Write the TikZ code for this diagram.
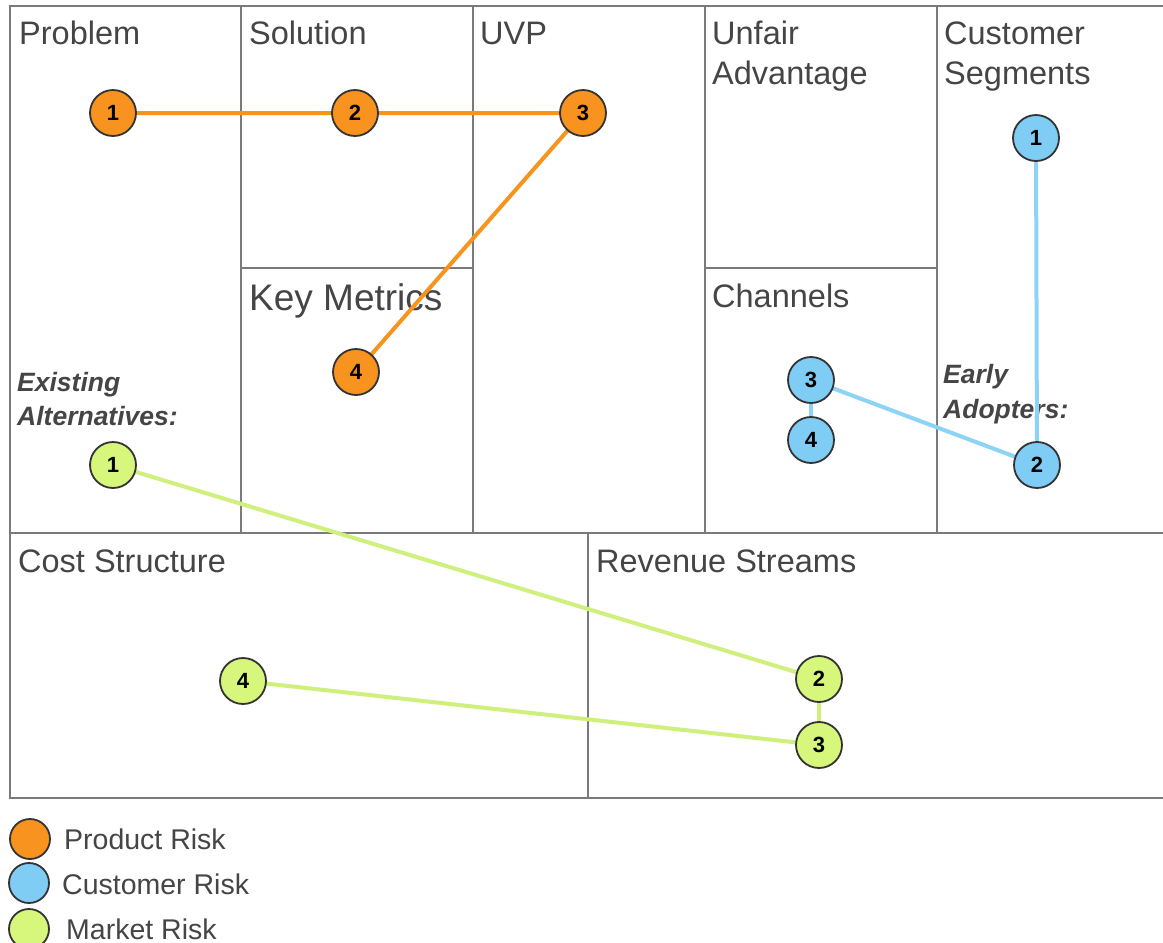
\documentclass[tikz,border=0pt]{standalone}
\usepackage{fontspec}
\setmainfont{Liberation Sans}
\definecolor{gridc}{HTML}{7A7A7A}
\definecolor{txt}{HTML}{454545}
\definecolor{porange}{HTML}{F7931E}
\definecolor{cblue}{HTML}{7FCDF5}
\definecolor{mgreen}{HTML}{D6F67C}
\definecolor{lorange}{HTML}{F7941D}
\definecolor{lblue}{HTML}{8CD3F6}
\definecolor{lgreen}{HTML}{CFF07C}
\tikzset{
  grid/.style={draw=gridc, line width=2pt},
  lbl/.style={anchor=base west, inner sep=0pt, text=txt, font=\fontsize{32.5}{36}\selectfont},
  bigl/.style={anchor=base west, inner sep=0pt, text=txt, font=\fontsize{37}{40}\selectfont},
  ital/.style={anchor=base west, inner sep=0pt, text=txt, font=\fontsize{26.5}{30}\selectfont\bfseries\itshape},
  legt/.style={anchor=base west, inner sep=0pt, text=txt, font=\fontsize{28.5}{32}\selectfont},
  risk/.style={circle, draw=black!80, line width=1.8pt, minimum size=46pt, inner sep=0pt, font=\fontsize{22}{24}\selectfont\bfseries},
  pr/.style={risk, fill=porange},
  cr/.style={risk, fill=cblue},
  mr/.style={risk, fill=mgreen},
  plink/.style={draw=lorange, line width=4pt},
  clink/.style={draw=lblue, line width=4pt},
  mlink/.style={draw=lgreen, line width=4pt},
}
\begin{document}
\begin{tikzpicture}[x=1pt,y=-1pt]
\useasboundingbox (0,0) rectangle (1163,943);
\fill[white] (0,0) rectangle (1163,943);
\begin{scope}
\clip (0,0) rectangle (1163,943);
\draw[grid] (10,6) rectangle (1180,798);
\draw[grid] (10,533) -- (1180,533);
\draw[grid] (241,6) -- (241,533);
\draw[grid] (473,6) -- (473,533);
\draw[grid] (705,6) -- (705,533);
\draw[grid] (937,6) -- (937,533);
\draw[grid] (241,268) -- (473,268);
\draw[grid] (705,268) -- (937,268);
\draw[grid] (588,533) -- (588,798);
\end{scope}
% labels
\node[lbl] (tprob) at (19,44) {Problem};
\node[lbl] (tsol) at (249,44) {Solution};
\node[lbl] (tuvp) at (480,44) {UVP};
\node[lbl] (tunf1) at (712,44) {Unfair};
\node[lbl] (tunf2) at (712,84) {Advantage};
\node[lbl] (tcs1) at (944,44) {Customer};
\node[lbl] (tcs2) at (944,84) {Segments};
\node[bigl] (tkm) at (249,310) {Key Metrics};
\node[lbl] (tch) at (712,307) {Channels};
\node[lbl] (tcost) at (18,572) {Cost Structure};
\node[lbl] (trev) at (596,572) {Revenue Streams};
\node[ital] (tex1) at (17,391) {Existing};
\node[ital] (tex2) at (17,425) {Alternatives:};
\node[ital] (tea1) at (943,383) {Early};
\node[ital] (tea2) at (943,418) {Adopters:};
% links first (behind circles)
\coordinate (cP1) at (113,113);
\coordinate (cP2) at (355,113);
\coordinate (cP3) at (583,113);
\coordinate (cP4) at (356,372);
\coordinate (cC1) at (1036,138);
\coordinate (cC2) at (1037,465);
\coordinate (cC3) at (811,380);
\coordinate (cC4) at (811,440);
\coordinate (cM1) at (113,465);
\coordinate (cM2) at (819,679);
\coordinate (cM3) at (819,745);
\coordinate (cM4) at (243,681);
\draw[plink] (cP1) -- (cP2) -- (cP3) -- (cP4);
\draw[clink] (cC1) -- (cC2);
\draw[clink] (cC3) -- (cC2);
\draw[clink] (cC3) -- (cC4);
\draw[mlink] (cM1) -- (cM2) -- (cM3) -- (cM4);
% circles
\node[pr] (P1) at (cP1) {1};
\node[pr] (P2) at (cP2) {2};
\node[pr] (P3) at (cP3) {3};
\node[pr] (P4) at (cP4) {4};
\node[cr] (C1) at (cC1) {1};
\node[cr] (C2) at (cC2) {2};
\node[cr] (C3) at (cC3) {3};
\node[cr] (C4) at (cC4) {4};
\node[mr] (M1) at (cM1) {1};
\node[mr] (M2) at (cM2) {2};
\node[mr] (M3) at (cM3) {3};
\node[mr] (M4) at (cM4) {4};
% legend
\node[risk, fill=porange, minimum size=40pt] (LP) at (30,839) {};
\node[risk, fill=cblue, minimum size=40pt] (LC) at (29,883) {};
\node[risk, fill=mgreen, minimum size=40pt] (LM) at (29,929) {};
\node[legt] (tLP) at (64,849) {Product Risk};
\node[legt] (tLC) at (62,894) {Customer Risk};
\node[legt] (tLM) at (66,939) {Market Risk};
\end{tikzpicture}
\end{document}
